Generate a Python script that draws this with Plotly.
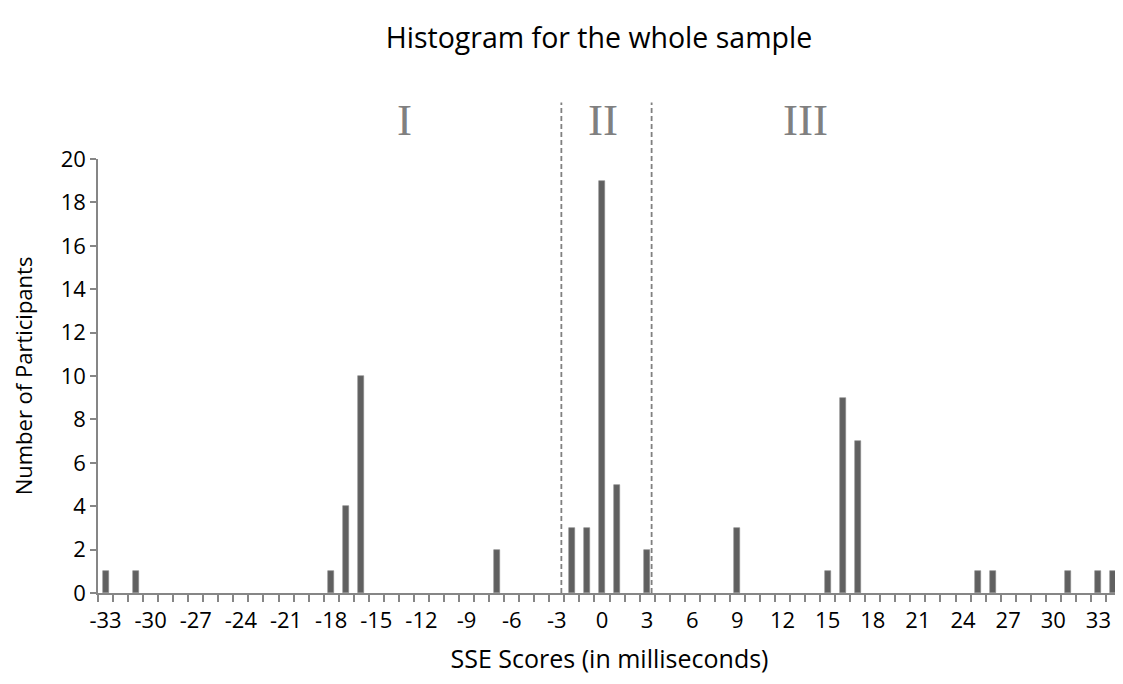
import plotly.graph_objects as go

# Data
scores = [-33, -31, -18, -17, -16, -7, -2, -1, 0, 1, 3, 9, 15, 16, 17, 25, 26, 31, 33, 34]
counts = [1, 1, 1, 4, 10, 2, 3, 3, 19, 5, 2, 3, 1, 9, 7, 1, 1, 1, 1, 1]
x_tick_vals = list(range(-33, 34, 3))
x_tick_text = [str(v) for v in x_tick_vals]
y_tick_vals = list(range(0, 21, 2))
region_labels = ["I", "II", "III"]
region_label_x = [-13.1, 0.1, 13.5]
divider_x = [-2.7, 3.3]

AXIS = "#868686"
BAR = "#606060"
FONT = "Open Sans"

fig = go.Figure()
fig.add_trace(go.Bar(
    x=scores, y=counts, width=0.4,
    marker=dict(color=BAR, line=dict(color="#8a8a8a", width=0.6)),
    showlegend=False,
))

shapes = []
for dx in divider_x:
    shapes.append(dict(type="line", xref="x", yref="paper", x0=dx, x1=dx,
                       y0=0, y1=1.13, line=dict(color="#808080", width=1.8, dash="5px,3px")))

annotations = []
for lab, lx in zip(region_labels, region_label_x):
    annotations.append(dict(text=lab, x=lx, xref="x", y=1.09, yref="paper",
                            showarrow=False, xanchor="center", yanchor="middle",
                            font=dict(family="Liberation Serif", size=45, color="#808080")))

# page body has an 8px margin: figure is drawn at (8, 8)
fig.update_layout(
    width=1115, height=676,
    margin=dict(l=90, r=2, t=151, b=91),
    paper_bgcolor="white", plot_bgcolor="white",
    title=dict(text="Histogram for the whole sample", x=0.53, xanchor="center",
               y=1 - 30 / 676, yanchor="middle",
               font=dict(family=FONT, size=28.5, color="#000000")),
    font=dict(family=FONT, size=21, color="#000000"),
    shapes=shapes,
    annotations=annotations,
    bargap=0,
)
fig.update_xaxes(
    range=[-33.5, 34.5], showgrid=False, zeroline=False,
    showline=True, linecolor=AXIS, linewidth=1.5,
    tickmode="array", tickvals=x_tick_vals, ticktext=x_tick_text, ticks="",
    ticklabelstandoff=7,
    tickfont=dict(family=FONT, size=22, color="#000000"),
    minor=dict(tickmode="array", tickvals=[v + 0.5 for v in range(-34, 35)],
               ticks="outside", ticklen=7, tickcolor=AXIS, tickwidth=1.5, showgrid=False),
    title=dict(text="SSE Scores (in milliseconds)", standoff=17,
               font=dict(family=FONT, size=25, color="#000000")),
)
fig.update_yaxes(
    range=[0, 20], showgrid=False, zeroline=False,
    showline=True, linecolor=AXIS, linewidth=1.5,
    tickmode="array", tickvals=y_tick_vals, ticks="outside", ticklen=6,
    tickcolor=AXIS, tickwidth=1.5,
    tickfont=dict(family=FONT, size=22, color="#000000"),
    title=dict(text="Number of Participants", standoff=24,
               font=dict(family=FONT, size=22, color="#000000")),
)

fig.write_html("out.html")
